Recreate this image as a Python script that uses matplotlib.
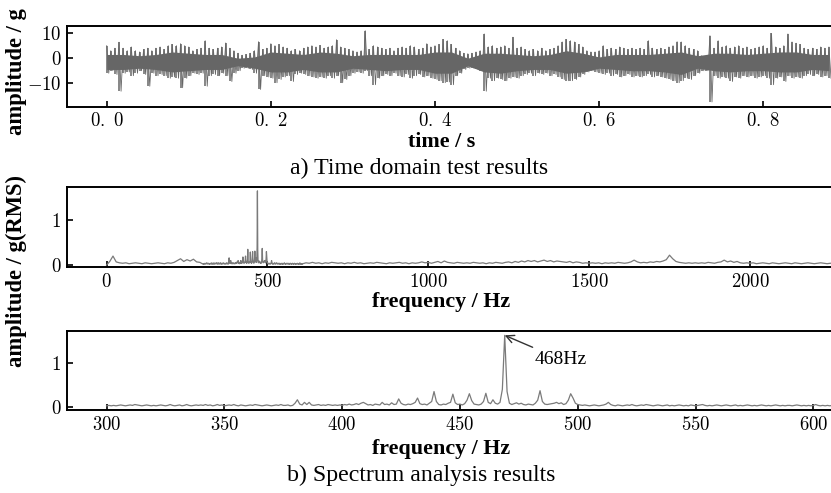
import numpy as np
import matplotlib
matplotlib.use("Agg")
import matplotlib.pyplot as plt
from matplotlib.ticker import FuncFormatter

plt.rcParams['mathtext.fontset'] = 'cm'
plt.rcParams['font.family'] = ['Liberation Serif', 'DejaVu Serif']

# ---- time domain: envelope of the signal, one max/min pair every 5 ms ----
t_step = 0.005
sig_upper = [
    5, 3, 4, 6.4, 4, 3, 4.5, 3, 2.5, 3.5, 4, 3, 4, 4.5, 3.5, 5, 5.5, 5, 5.8, 5,
    4.5, 3, 3.5, 4, 7, 4, 3.5, 4, 4.5, 6.1, 4, 3, 2, 1.2, 1.5, 2, 3, 6.6, 3.5, 4,
    5.8, 5, 5.5, 4.5, 4, 3, 3.5, 3, 4, 4.5, 5, 4.5, 5.1, 4, 4.5, 5, 7.4, 4.5, 4, 3.5,
    3, 2.5, 3, 11, 3.5, 5, 4.5, 4, 3.5, 4, 3, 4, 4.5, 4, 5, 4.5, 3.5, 4, 5.8, 4.5,
    5, 5.5, 7.5, 7, 5.5, 4, 3, 2, 1.8, 2, 2.5, 3, 9.7, 4.5, 5, 4, 4.5, 5, 4, 8.4,
    4, 4.5, 3.5, 3, 3.5, 3, 4, 3, 3.5, 4, 5, 6.5, 7.5, 7, 6.5, 5.5, 4.5, 3, 2.5, 2.5,
    3, 5, 3.5, 4, 3.5, 4.5, 4, 3.5, 4, 3.5, 4, 3.5, 7, 4, 3.5, 4, 3.5, 4.5, 5, 6.6,
    6.5, 5, 4, 3.5, 3, 1, 0.5, 9, 4, 7, 4.5, 5, 4, 4.5, 5, 4, 4.5, 3.5, 4, 4.5,
    5, 4, 9.9, 4.5, 4, 5, 9.7, 6.5, 6, 5.5, 4, 3.5, 4, 3.5, 4.5, 4, 4.5,
]
sig_lower = [
    -6, -5, -6.5, -13.2, -6, -5.5, -7, -6, -5, -6.5, -11.2, -6, -7, -6.5, -7, -8, -7.5, -8, -11.8, -8,
    -7, -6, -6.5, -6, -11.2, -7, -6.5, -7, -6, -7, -9.3, -6, -5, -4, -4, -4.5, -6, -12.5, -7, -7.5,
    -8, -9.8, -8.5, -7.5, -7, -9.3, -6.5, -6, -6.5, -7, -7.5, -8, -7.5, -8, -7, -8, -7, -9.8, -8.5, -7,
    -6, -5.5, -6, -5, -7, -10.6, -8, -7, -6.5, -7, -6, -7, -7.5, -6.5, -8, -7, -6.5, -7.5, -7, -8,
    -8.5, -9, -9.8, -9.5, -10.6, -7, -6, -4.5, -4, -4, -4.5, -5, -13.2, -8, -9, -8, -8.5, -9, -8, -7.5,
    -8, -7, -6.5, -6, -7, -6, -6.5, -6, -7, -6.5, -7.5, -8.5, -9, -9, -8.5, -7.5, -6.5, -5.5, -5, -5.5,
    -6, -6.5, -6, -7, -6.5, -7.5, -7, -6.5, -7.5, -7, -7.5, -7, -6.5, -7.5, -7, -7.5, -8, -8.5, -9, -9.8,
    -9, -8, -8.5, -7, -6, -5, -5, -17.5, -7, -8, -7.5, -8, -9.3, -7.5, -8, -7, -7.5, -7, -8, -7.5,
    -7, -8, -10.6, -8, -7.5, -9.3, -7, -8, -7.5, -8, -7, -6.5, -7, -6.5, -7.5, -7, -8,
]
# edges of the solid dark core of the trace, every 20 ms
core_step = 0.02
core_hi = [
    1.5, 1.5, 1, 1.5, 2.5, 2, 1.5, 1.5, 0, 0.5, 2.5, 2, 1.5, 2.5, 2,
    1, 1.5, 1.5, 1.5, 1.5, 2.5, 2.5, 0, 2, 2, 1.5, 1, 1.5, 3, 2,
    0.5, 1.5, 1.5, 1.5, 2, 2.5, 1, 2, 2, 1.5, 2, 2.5, 2.5, 1.5, 1.5,
]
core_lo = [
    -4.5, -4.5, -4, -4.5, -5.5, -5, -4.5, -4.5, -3, -4, -5.5, -5.5, -4.5, -5.5, -5.5,
    -4, -4.5, -5, -4.5, -4.5, -6, -6, -3, -5.5, -6, -5, -4.5, -4.5, -6, -5.5,
    -4, -4.5, -5, -5, -5.5, -6.5, -4, -5, -5.5, -5, -5, -5.5, -5.5, -4.5, -5,
]

# ---- spectrum: coarse below 300 Hz, 1 Hz from 300 to 610 Hz, coarse above ----
freq_low = list(range(0, 300, 10))
amp_low = [
    0.00, 0.08, 0.20, 0.07, 0.05, 0.04, 0.05, 0.03, 0.04, 0.05,
    0.04, 0.03, 0.05, 0.04, 0.03, 0.04, 0.05, 0.04, 0.03, 0.05,
    0.04, 0.06, 0.10, 0.14, 0.08, 0.12, 0.09, 0.13, 0.07, 0.06,
]
freq_mid = list(range(300, 611))
amp_mid = [
    0.02, 0.03, 0.02, 0.03, 0.02, 0.03, 0.04, 0.03, 0.02, 0.03,
    0.04, 0.03, 0.05, 0.04, 0.03, 0.02, 0.03, 0.04, 0.03, 0.02,
    0.03, 0.02, 0.03, 0.04, 0.03, 0.02, 0.03, 0.05, 0.03, 0.02,
    0.03, 0.04, 0.02, 0.03, 0.05, 0.03, 0.02, 0.03, 0.04, 0.03,
    0.04, 0.03, 0.05, 0.03, 0.04, 0.02, 0.03, 0.05, 0.03, 0.04,
    0.02, 0.03, 0.04, 0.03, 0.05, 0.03, 0.02, 0.04, 0.03, 0.02,
    0.03, 0.04, 0.03, 0.05, 0.04, 0.03, 0.02, 0.03, 0.04, 0.03,
    0.02, 0.03, 0.04, 0.03, 0.05, 0.03, 0.03, 0.04, 0.02, 0.03,
    0.08, 0.16, 0.06, 0.04, 0.10, 0.05, 0.10, 0.04, 0.03, 0.04,
    0.05, 0.03, 0.04, 0.03, 0.05, 0.04, 0.03, 0.04, 0.03, 0.04,
    0.03, 0.05, 0.04, 0.06, 0.04, 0.05, 0.07, 0.05, 0.08, 0.10,
    0.07, 0.04, 0.05, 0.03, 0.06, 0.05, 0.04, 0.10, 0.05, 0.06,
    0.04, 0.09, 0.05, 0.06, 0.18, 0.08, 0.05, 0.04, 0.06, 0.05,
    0.07, 0.10, 0.20, 0.07, 0.05, 0.06, 0.04, 0.08, 0.12, 0.35,
    0.12, 0.05, 0.04, 0.06, 0.05, 0.08, 0.10, 0.29, 0.09, 0.05,
    0.06, 0.04, 0.07, 0.15, 0.30, 0.14, 0.06, 0.05, 0.04, 0.06,
    0.12, 0.31, 0.10, 0.07, 0.16, 0.08, 0.06, 0.10, 0.40, 1.65,
    0.35, 0.08, 0.05, 0.07, 0.09, 0.06, 0.08, 0.05, 0.04, 0.06,
    0.05, 0.04, 0.08, 0.15, 0.37, 0.12, 0.06, 0.05, 0.06, 0.07,
    0.08, 0.10, 0.07, 0.09, 0.05, 0.07, 0.15, 0.30, 0.20, 0.08,
    0.05, 0.04, 0.03, 0.04, 0.03, 0.02, 0.03, 0.04, 0.03, 0.02,
    0.03, 0.04, 0.06, 0.10, 0.05, 0.03, 0.02, 0.04, 0.03, 0.02,
    0.03, 0.04, 0.03, 0.05, 0.03, 0.02, 0.03, 0.04, 0.03, 0.05,
    0.04, 0.03, 0.02, 0.03, 0.04, 0.03, 0.02, 0.03, 0.04, 0.02,
    0.03, 0.02, 0.03, 0.04, 0.03, 0.02, 0.03, 0.02, 0.04, 0.03,
    0.02, 0.03, 0.04, 0.05, 0.03, 0.02, 0.03, 0.02, 0.03, 0.04,
    0.03, 0.02, 0.03, 0.04, 0.03, 0.02, 0.03, 0.04, 0.02, 0.03,
    0.02, 0.03, 0.04, 0.03, 0.02, 0.03, 0.02, 0.03, 0.04, 0.03,
    0.02, 0.03, 0.02, 0.03, 0.04, 0.03, 0.02, 0.03, 0.02, 0.03,
    0.03, 0.02, 0.03, 0.04, 0.03, 0.02, 0.03, 0.02, 0.03, 0.02,
    0.03, 0.05, 0.03, 0.02, 0.03, 0.02, 0.03, 0.02, 0.03, 0.02,
    0.03,
]
freq_high = list(range(620, 2260, 10))
amp_high = [
    0.05, 0.04, 0.06, 0.04, 0.05, 0.03, 0.05, 0.04, 0.06, 0.05,
    0.04, 0.05, 0.03, 0.05, 0.04, 0.06, 0.04, 0.05, 0.03, 0.04,
    0.05, 0.04, 0.06, 0.05, 0.04, 0.03, 0.05, 0.04, 0.05, 0.06,
    0.04, 0.05, 0.03, 0.05, 0.04, 0.05, 0.07, 0.05, 0.06, 0.04,
    0.06, 0.08, 0.05, 0.09, 0.06, 0.05, 0.04, 0.06, 0.05, 0.04,
    0.05, 0.04, 0.06, 0.05, 0.04, 0.05, 0.03, 0.05, 0.04, 0.06,
    0.05, 0.04, 0.06, 0.07, 0.05, 0.08, 0.06, 0.09, 0.07, 0.10,
    0.08, 0.10, 0.07, 0.09, 0.11, 0.08, 0.10, 0.07, 0.09, 0.08,
    0.07, 0.06, 0.08, 0.05, 0.07, 0.06, 0.04, 0.05, 0.04, 0.05,
    0.04, 0.05, 0.03, 0.05, 0.04, 0.05, 0.04, 0.06, 0.05, 0.04,
    0.05, 0.07, 0.11, 0.07, 0.05, 0.06, 0.05, 0.07, 0.06, 0.08,
    0.07, 0.09, 0.12, 0.22, 0.14, 0.08, 0.06, 0.05, 0.04, 0.05,
    0.04, 0.05, 0.04, 0.05, 0.04, 0.06, 0.05, 0.04, 0.06, 0.07,
    0.11, 0.07, 0.09, 0.06, 0.08, 0.05, 0.04, 0.05, 0.04, 0.05,
    0.03, 0.04, 0.05, 0.04, 0.03, 0.05, 0.04, 0.03, 0.04, 0.05,
    0.04, 0.03, 0.05, 0.04, 0.03, 0.04, 0.05, 0.04, 0.03, 0.04,
    0.05, 0.04, 0.03, 0.04,
]

time_ticks = [0.0, 0.2, 0.4, 0.6, 0.8]
full_ticks = [0, 500, 1000, 1500, 2000]
zoom_ticks = [300, 350, 400, 450, 500, 550, 600]

# build arrays
up = np.array(sig_upper)
lo = np.array(sig_lower)
t0 = np.arange(len(up)) * t_step
tc = np.arange(len(core_hi)) * core_step
t_zig = np.column_stack([t0, t0 + t_step / 2]).ravel()
a_zig = np.column_stack([up, lo]).ravel()

freq = np.array(freq_low + freq_mid + freq_high, dtype=float)
amp = np.array(amp_low + amp_mid + amp_high)
fm = np.array(freq_mid, dtype=float)
am = np.array(amp_mid)

fig = plt.figure(figsize=(8.31, 4.93), dpi=100)
ax_w = 1 - 0.0806
ax1 = fig.add_axes([0.0806, 0.7836, ax_w, 0.1637])
ax2 = fig.add_axes([0.0806, 0.4578, ax_w, 0.1623])
ax3 = fig.add_axes([0.0806, 0.1684, ax_w, 0.1602])

tick_fs = 13.5
lab_fs = 15.8


def math_fmt(dec):
    def f(v, pos):
        if dec:
            s = f"{v:.1f}".replace('.', r'.\ ')
        else:
            s = f"{v:.0f}"
        return "$" + s + "$"
    return FuncFormatter(f)


for ax in (ax1, ax2, ax3):
    ax.spines['right'].set_visible(False)
    for s in ('top', 'bottom', 'left'):
        ax.spines[s].set_linewidth(1.4)
    ax.tick_params(direction='in', length=4, width=1.2, labelsize=tick_fs, pad=4,
                   right=False, top=False)
    ax.yaxis.set_major_formatter(math_fmt(False))

sig_col = '#666666'
ax1.fill_between(tc, core_lo, core_hi, color=sig_col, lw=0)
ax1.vlines(t0, lo, up, color=sig_col, lw=1.1)
ax1.plot(t_zig, a_zig, color=sig_col, lw=0.6)
ax1.set_xlim(-0.0484, 0.8825)
ax1.set_ylim(-19.4, 12.9)
ax1.set_xticks(time_ticks)
ax1.set_yticks([-10, 0, 10])
ax1.xaxis.set_major_formatter(math_fmt(True))

ax2.plot(freq, amp, color='#7a7a7a', lw=0.9)
ax2.set_xlim(-123, 2252)
ax2.set_ylim(-0.05, 1.73)
ax2.set_xticks(full_ticks)
ax2.set_yticks([0, 1])
ax2.xaxis.set_major_formatter(math_fmt(False))

ax3.plot(fm, am, color='#7a7a7a', lw=0.9)
ax3.set_xlim(283.2, 607.5)
ax3.set_ylim(-0.076, 1.75)
ax3.set_xticks(zoom_ticks)
ax3.set_yticks([0, 1])
ax3.xaxis.set_major_formatter(math_fmt(False))

k = int(np.argmax(am))
ax3.annotate('468Hz', xy=(fm[k], am[k]), xytext=(481.5, 1.1),
             ha='left', va='center', fontsize=14,
             arrowprops=dict(arrowstyle='->', color='#333333', lw=1.0,
                             shrinkA=1, shrinkB=0))

bold = dict(fontweight='bold', fontsize=lab_fs, ha='center', va='center')
fig.text(0.0193, 0.854, 'amplitude / g', rotation=90,
         fontweight='bold', fontsize=16.3, ha='center', va='center')
fig.text(0.0193, 0.45, 'amplitude / g(RMS)', rotation=90,
         fontweight='bold', fontsize=16.3, ha='center', va='center')
fig.text(0.531, 0.7126, 'time / s', **bold)
fig.text(0.531, 0.387, 'frequency / Hz', **bold)
fig.text(0.531, 0.089, 'frequency / Hz', **bold)
fig.text(0.504, 0.659, 'a) Time domain test results', fontsize=17.2, ha='center', va='center')
fig.text(0.5066, 0.0355, 'b) Spectrum analysis results', fontsize=17.2, ha='center', va='center')

fig.savefig('out.png', dpi=100)
